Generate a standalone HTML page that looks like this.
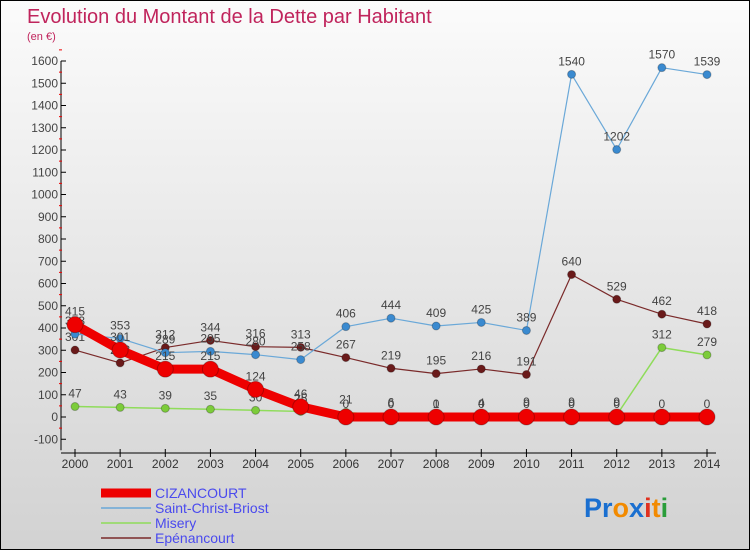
<!DOCTYPE html>
<html><head><meta charset="utf-8"><style>
html,body{margin:0;padding:0}
body{width:750px;height:550px;overflow:hidden;font-family:"Liberation Sans",sans-serif}
#wrap{position:relative;width:748px;height:548px;border:1px solid #000;background:linear-gradient(#fbfbfb,#d2d2d2)}
svg text{font-family:"Liberation Sans",sans-serif}
</style></head><body>
<div id="wrap">
<svg id="chart" width="748" height="548">
<text x="26" y="22" font-size="20" fill="#c0245c">Evolution du Montant de la Dette par Habitant</text>
<text x="26" y="39" font-size="11" fill="#c0245c">(en €)</text>
<g id="axes"></g><g id="series"></g><g id="legend"></g>
<text x="583" y="516" font-size="27" font-weight="bold"><tspan fill="#1a6fd0">Pr</tspan><tspan fill="#f28a00">o</tspan><tspan fill="#1a6fd0">x</tspan><tspan fill="#e0301e">i</tspan><tspan fill="#f28a00">t</tspan><tspan fill="#2a9d3a">i</tspan></text>
</svg>
</div>
<script>
const years=[2000,2001,2002,2003,2004,2005,2006,2007,2008,2009,2010,2011,2012,2013,2014];
const yTicks=[-100,0,100,200,300,400,500,600,700,800,900,1000,1100,1200,1300,1400,1500,1600];
const cizancourt=[415,301,215,215,124,46,0,0,0,0,0,0,0,0,0];
const saintChrist=[373,353,289,295,280,258,406,444,409,425,389,1540,1202,1570,1539];
const misery=[47,43,39,35,30,25,21,6,1,4,9,9,9,312,279];
const epenancourt=[301,243,312,344,316,313,267,219,195,216,191,640,529,462,418];
const names=["CIZANCOURT","Saint-Christ-Briost","Misery","Epénancourt"];
const NS="http://www.w3.org/2000/svg";
function X(i){return 74+i*(632/14);}
function Y(v){return 416-v*0.2225;}
function mk(t,a,p){const e=document.createElementNS(NS,t);for(const k in a)e.setAttribute(k,a[k]);p.appendChild(e);return e;}
const ax=document.getElementById('axes');
const yl=mk('line',{x1:60,y1:Y(1600),x2:60,y2:Y(-100)+11,stroke:'#000'},ax);


yTicks.forEach(v=>{
  mk('line',{x1:60,y1:Y(v),x2:65,y2:Y(v),stroke:'#000'},ax);
  mk('line',{x1:58,y1:Y(v+50),x2:61,y2:Y(v+50),stroke:'#e00'},ax);
  const t=mk('text',{x:57,y:Y(v)+4,'font-size':12,fill:'#444','text-anchor':'end'},ax);
  t.textContent=v;
  
  
});
const xl=mk('line',{x1:60,y1:452,x2:715,y2:452,stroke:'#000'},ax);


years.forEach((y,i)=>{
  mk('line',{x1:X(i),y1:448,x2:X(i),y2:456,stroke:'#000'},ax);
  const t=mk('text',{x:X(i),y:467,'font-size':12,fill:'#333','text-anchor':'middle'},ax);
  t.textContent=y;
  
  
});
const sg=document.getElementById('series');
const defs=[
 {d:misery,c:'#8fdc5a',f:'#7ccc3a',w:1.5,r:4,n:'misery'},
 {d:epenancourt,c:'#7a2a2a',f:'#6a1a1a',w:1.2,r:4,n:'epenancourt'},
 {d:saintChrist,c:'#6aa8d8',f:'#3a8ad0',w:1.2,r:4,n:'saint-christ-briost'},
 {d:cizancourt,c:'#ee0000',f:'#ee0000',w:9,r:8,n:'cizancourt'}
];
defs.forEach(s=>{
  const g=mk('g',{},sg);
  
  
  const pl=mk('polyline',{points:s.d.map((v,i)=>X(i)+','+Y(v)).join(' '),fill:'none',stroke:s.c,'stroke-width':s.w,'stroke-linejoin':'round'},g);
  
  
  s.d.forEach((v,i)=>{
    const c=mk('circle',{cx:X(i),cy:Y(v),r:s.r,fill:s.f,stroke:'rgba(0,0,0,0.25)'},g);
    
    
    const t=mk('text',{x:X(i),y:Y(v)-9,'font-size':12,fill:'#444','text-anchor':'middle'},g);
    t.textContent=v;
    
    
  });
});
const lg=document.getElementById('legend');
const lc=['#ee0000','#6aa8d8','#8fdc5a','#7a2a2a'],lw=[9,1.5,1.5,1.5];
names.forEach((n,i)=>{
  const y=492+i*15;
  const g=mk('g',{},lg);
  
  
  mk('line',{x1:100,y1:y,x2:150,y2:y,stroke:lc[i],'stroke-width':lw[i]},g);
  const t=mk('text',{x:154,y:y+5,'font-size':14,fill:'#4a4aee'},g);
  t.textContent=n;
});
</script>
</body></html>
